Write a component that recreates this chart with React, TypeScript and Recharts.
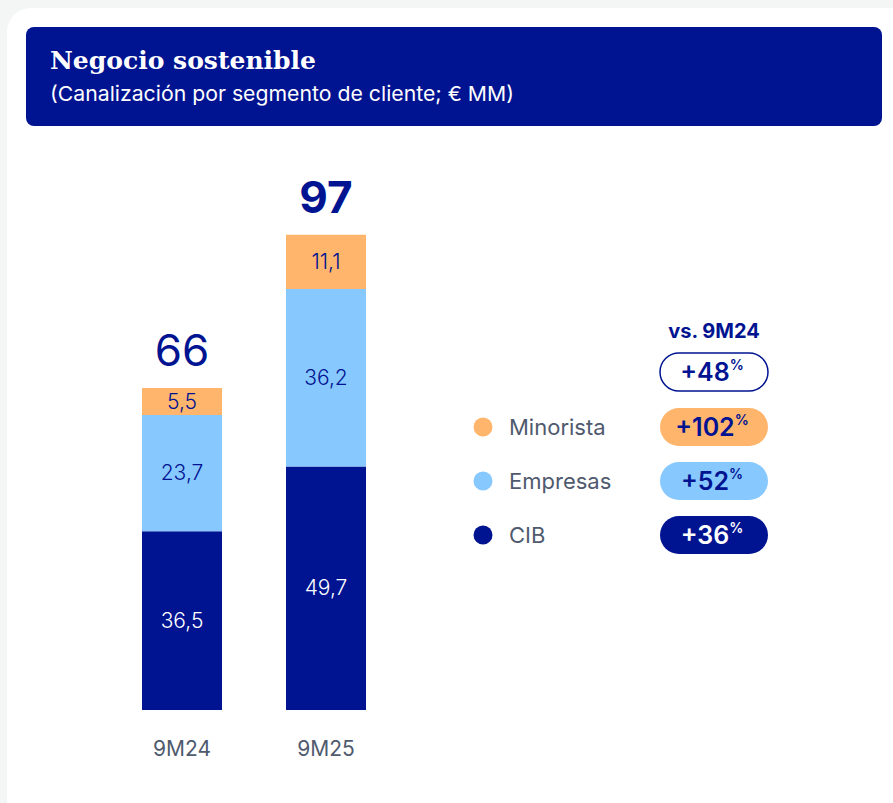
import React from 'react';
import { BarChart, Bar, XAxis, YAxis, LabelList } from 'recharts';

// values (€ MM)
const periods = ['9M24', '9M25'];
const cib = [36.5, 49.7];
const empresas = [23.7, 36.2];
const minorista = [5.5, 11.1];

// legend / growth pills (vs. 9M24)
const legendNames = ['Minorista', 'Empresas', 'CIB'];
const totalGrowth = '+48';
const segmentGrowth = ['+102', '+52', '+36'];

const NAVY = '#001391';
const LIGHT_BLUE = '#87c8ff';
const ORANGE = '#ffb56c';
const GREY_TEXT = '#4f5a6e';
const FONT = 'Inter, "Open Sans", sans-serif';

const legendColors = [ORANGE, LIGHT_BLUE, NAVY];
const pillText = [NAVY, NAVY, '#ffffff'];

const data = periods.map((p, i) => ({
  period: p,
  cib: cib[i],
  empresas: empresas[i],
  minorista: minorista[i],
  total: cib[i] + empresas[i] + minorista[i],
}));

const fmt = (v: number) => v.toFixed(1).replace('.', ',');

const segmentLabel = (color: string) => (props: any) => {
  const { x, y, width, height, value } = props;
  return (
    <text
      x={x + width / 2}
      y={y + height / 2 + 7}
      textAnchor="middle"
      fontFamily={FONT}
      fontSize={21}
      fontWeight={300}
      fill={color}
    >
      {fmt(Number(value))}
    </text>
  );
};

const totalLabel = (props: any) => {
  const { x, y, width, value, index } = props;
  return (
    <text
      x={x + width / 2}
      y={y - 22}
      textAnchor="middle"
      fontFamily={FONT}
      fontSize={44}
      fontWeight={index === 1 ? 700 : 400}
      fill={NAVY}
    >
      {Math.round(Number(value))}
    </text>
  );
};

const PeriodTick = (props: any) => {
  const { x, y, payload } = props;
  return (
    <text x={x} y={y + 38} textAnchor="middle" fontFamily={FONT} fontSize={21} fill={GREY_TEXT}>
      {payload.value}
    </text>
  );
};

const Pill = ({ cy, label, fill, stroke, color }: any) => (
  <g>
    <rect x={660} y={cy - 19} width={108} height={38} rx={19} fill={fill} stroke={stroke} strokeWidth={1.5} />
    <text x={712} y={cy + 9} textAnchor="middle" fontFamily={FONT} fontWeight={600} fontSize={25} fill={color}>
      {label}
      <tspan fontSize={14} dy={-11}>%</tspan>
    </text>
  </g>
);

export default function App() {
  const rowY = [427, 481, 535];
  return (
    <div style={{ position: 'relative', width: 893, height: 803, background: '#f4f6f6', overflow: 'hidden' }}>
      <style>{'body{margin:0}'}</style>
      <div
        style={{
          position: 'absolute',
          left: 7,
          top: 8,
          width: 920,
          height: 830,
          borderRadius: 24,
          background: '#ffffff',
        }}
      />
      <div style={{ position: 'absolute', left: 0, top: 0 }}>
        <BarChart
          width={893}
          height={803}
          data={data}
          margin={{ top: 220, right: 495, left: 110, bottom: 53 }}
        >
          <XAxis
            dataKey="period"
            axisLine={false}
            tickLine={false}
            height={40}
            interval={0}
            tick={<PeriodTick />}
          />
          <YAxis hide domain={[0, 100]} />
          <Bar dataKey="cib" stackId="a" fill={NAVY} barSize={80} isAnimationActive={false}>
            <LabelList dataKey="cib" content={segmentLabel('#ffffff')} />
          </Bar>
          <Bar dataKey="empresas" stackId="a" fill={LIGHT_BLUE} barSize={80} isAnimationActive={false}>
            <LabelList dataKey="empresas" content={segmentLabel(NAVY)} />
          </Bar>
          <Bar dataKey="minorista" stackId="a" fill={ORANGE} barSize={80} isAnimationActive={false}>
            <LabelList dataKey="minorista" content={segmentLabel(NAVY)} />
            <LabelList dataKey="total" content={totalLabel} />
          </Bar>
        </BarChart>
      </div>
      <svg width={893} height={803} style={{ position: 'absolute', left: 0, top: 0, pointerEvents: 'none' }}>
        <rect x={26} y={27} width={856} height={99} rx={8} fill={NAVY} />
        <text
          x={50}
          y={69}
          fontFamily='"DejaVu Serif", "Liberation Serif", serif'
          fontWeight={700}
          fontSize={25}
          fill="#ffffff"
          textLength={266}
          lengthAdjust="spacingAndGlyphs"
        >
          Negocio sostenible
        </text>
        <text
          x={50}
          y={101}
          fontFamily={FONT}
          fontSize={20.5}
          fill="#ffffff"
          textLength={464}
          lengthAdjust="spacingAndGlyphs"
        >
          (Canalización por segmento de cliente; € MM)
        </text>

        <text x={714} y={338} textAnchor="middle" fontFamily={FONT} fontWeight={700} fontSize={20} fill={NAVY}>
          vs. 9M24
        </text>
        <Pill cy={372} label={totalGrowth} fill="#ffffff" stroke={NAVY} color={NAVY} />
        {legendNames.map((name, i) => (
          <g key={name}>
            <circle cx={483} cy={rowY[i]} r={9.5} fill={legendColors[i]} />
            <text x={509} y={rowY[i] + 8} fontFamily={FONT} fontSize={22} fill={GREY_TEXT}>
              {name}
            </text>
            <Pill cy={rowY[i]} label={segmentGrowth[i]} fill={legendColors[i]} stroke="none" color={pillText[i]} />
          </g>
        ))}
      </svg>
    </div>
  );
}
